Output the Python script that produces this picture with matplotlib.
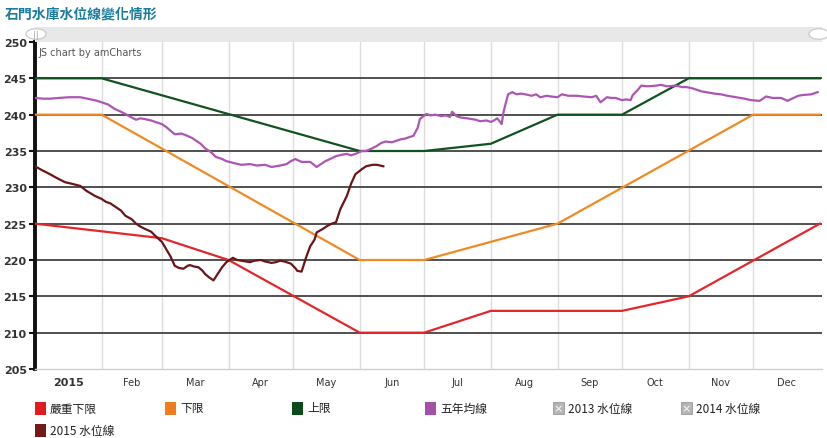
import matplotlib
matplotlib.use("Agg")
import matplotlib.pyplot as plt
from matplotlib.patches import Rectangle, Circle
from datetime import date
import numpy as np

plt.rcParams['font.family'] = ['Noto Sans CJK TC', 'DejaVu Sans']

# ---------------- data ----------------
title = "石門水庫水位線變化情形"
month_labels = ["2015", "Feb", "Mar", "Apr", "May", "Jun", "Jul", "Aug", "Sep", "Oct", "Nov", "Dec"]
y_ticks = [205, 210, 215, 220, 225, 230, 235, 240, 245, 250]

severe_dates = ["01-01", "03-01", "04-01", "06-01", "07-01", "08-01", "10-01", "11-01", "12-31"]
severe_vals = [225, 223, 220, 210, 210, 213, 213, 215, 225]

lower_dates = ["01-01", "02-01", "06-01", "07-01", "09-01", "12-01", "12-31"]
lower_vals = [240, 240, 220, 220, 225, 240, 240]

upper_dates = ["01-01", "02-01", "06-01", "07-01", "08-01", "09-01", "10-01", "11-01", "12-31"]
upper_vals = [245, 245, 235, 235, 236, 240, 240, 245, 245]

# five-year average (day of year, level)
avg_days = [0, 4, 7, 11, 16, 21, 26, 29, 31, 34, 37, 40, 42, 45, 47, 49, 51, 54, 56, 59, 61, 63, 65, 68, 70, 73,
            75, 77, 79, 82, 84, 87, 89, 93, 96, 100, 103, 107, 110, 114, 117, 119, 121, 124, 128, 131, 133, 135,
            138, 140, 143, 145, 147, 149, 152, 154, 157, 159, 161, 163, 166, 168, 170, 172, 174, 176, 178, 179,
            182, 184, 186, 189, 191, 193, 194, 196, 198, 201, 203, 205, 207, 210, 212, 214, 215, 217, 218, 220,
            222, 224, 226, 228, 231, 233, 235, 238, 240, 243, 245, 248, 252, 255, 259, 261, 263, 266, 268, 270,
            273, 275, 277, 278, 280, 282, 285, 289, 291, 294, 298, 301, 303, 306, 308, 310, 312, 316, 319, 322,
            326, 330, 333, 337, 340, 343, 347, 350, 352, 355, 357, 361, 364]
avg_vals = [242.3, 242.2, 242.2, 242.3, 242.4, 242.4, 242.1, 241.9, 241.7, 241.4, 240.8, 240.4, 240.1, 239.6,
            239.3, 239.5, 239.4, 239.2, 239.0, 238.7, 238.3, 237.8, 237.3, 237.4, 237.2, 236.8, 236.4, 236.0,
            235.4, 234.8, 234.2, 233.9, 233.6, 233.3, 233.1, 233.2, 233.0, 233.1, 232.8, 233.0, 233.2, 233.6,
            233.9, 233.5, 233.5, 232.8, 233.2, 233.6, 234.0, 234.3, 234.5, 234.6, 234.4, 234.6, 235.0, 235.0,
            235.4, 235.7, 236.1, 236.3, 236.2, 236.4, 236.6, 236.7, 236.9, 237.1, 238.2, 239.4, 240.1, 239.9,
            240.0, 239.8, 239.9, 239.7, 240.4, 239.8, 239.6, 239.5, 239.4, 239.3, 239.1, 239.2, 239.0, 239.3,
            239.5, 238.7, 240.5, 242.8, 243.1, 242.8, 242.9, 242.8, 242.6, 242.8, 242.4, 242.6, 242.5, 242.4,
            242.8, 242.6, 242.6, 242.5, 242.4, 242.6, 241.7, 242.4, 242.3, 242.3, 242.0, 242.1, 242.0, 242.7,
            243.3, 244.0, 243.9, 244.0, 244.1, 243.9, 244.0, 243.8, 243.8, 243.6, 243.4, 243.2, 243.1, 242.9,
            242.8, 242.6, 242.4, 242.2, 242.0, 241.9, 242.5, 242.3, 242.3, 241.9, 242.2, 242.6, 242.7, 242.8,
            243.1]

# 2015 water level (day of year, level)
w2015_days = [0, 3, 7, 10, 14, 17, 21, 24, 28, 31, 33, 35, 37, 40, 42, 45, 47, 49, 51, 54, 56, 59, 61, 63, 65,
              67, 69, 71, 72, 74, 76, 78, 79, 81, 83, 85, 87, 89, 91, 92, 94, 96, 98, 100, 102, 105, 107, 110,
              112, 114, 116, 119, 121, 122, 124, 126, 128, 130, 131, 134, 136, 138, 140, 142, 145, 147, 149, 152,
              154, 157, 159, 162]
w2015_vals = [232.9, 232.4, 231.8, 231.3, 230.7, 230.5, 230.2, 229.5, 228.8, 228.4, 228.0, 227.8, 227.4, 226.8,
              226.1, 225.6, 225.0, 224.6, 224.3, 223.9, 223.3, 222.5, 221.5, 220.5, 219.2, 218.9, 218.8, 219.2,
              219.3, 219.1, 219.0, 218.5, 218.1, 217.6, 217.2, 218.1, 219.0, 219.7, 220.1, 220.3, 220.0, 219.9,
              219.8, 219.7, 219.9, 220.0, 219.8, 219.6, 219.7, 219.9, 219.8, 219.5, 218.9, 218.5, 218.4, 220.3,
              221.9, 222.8, 223.8, 224.3, 224.7, 225.0, 225.2, 227.0, 228.8, 230.5, 231.8, 232.5, 232.9, 233.1,
              233.1, 232.9]

legend_labels = ["嚴重下限", "下限", "上限", "五年均線", "2013 水位線", "2014 水位線", "2015 水位線"]

# ---------------- helpers ----------------
def doy(md):
    m, d = md.split("-")
    return (date(2015, int(m), int(d)) - date(2015, 1, 1)).days + (1 if md == "12-31" else 0)

month_starts = [(date(2015, m, 1) - date(2015, 1, 1)).days for m in range(1, 13)] + [365]
month_mids = [(month_starts[i] + month_starts[i + 1]) / 2 for i in range(12)]

c_red = "#e3262a"
c_orange = "#f08a24"
c_green = "#0f5420"
c_purple = "#ad55b5"
c_brown = "#6a1518"

W, H = 828, 439
fig = plt.figure(figsize=(W / 100, H / 100), dpi=100)
ax = fig.add_axes([35 / W, 1 - 370 / H, (822 - 35) / W, (370 - 43) / H])

ax.set_xlim(0, 366)
ax.set_ylim(205, 250)

# grid
for ms in month_starts[1:12]:
    ax.axvline(ms, color="#dcdcdc", lw=1.0, zorder=0)
for yv in y_ticks[1:-1]:
    ax.axhline(yv, color="#505050", lw=1.4, zorder=1)

lw = 1.6
ax.plot([doy(d) for d in severe_dates], severe_vals, color=c_red, lw=lw, zorder=3)
ax.plot([doy(d) for d in lower_dates], lower_vals, color=c_orange, lw=lw, zorder=3)
ax.plot([doy(d) for d in upper_dates], upper_vals, color=c_green, lw=lw, zorder=3)
ax.plot(avg_days, avg_vals, color=c_purple, lw=lw, zorder=4)
ax.plot(w2015_days, w2015_vals, color=c_brown, lw=lw, zorder=5)

# axes styling
for s in ["top", "right"]:
    ax.spines[s].set_visible(False)
ax.spines["left"].set_linewidth(2.8)
ax.spines["left"].set_color("#111111")
ax.spines["bottom"].set_color("#d0d0d0")
ax.spines["bottom"].set_linewidth(1.0)

ax.set_yticks(y_ticks)
ax.set_yticklabels([str(v) for v in y_ticks], fontsize=8, fontweight="bold", color="#333333",
                   family=["DejaVu Sans"])
ax.tick_params(axis="y", length=4, width=1.5, color="#111111", pad=2)

ax.set_xticks(month_starts[1:12])
ax.set_xticklabels([])
ax.tick_params(axis="x", which="major", length=0)
ax.set_xticks(month_mids, minor=True)
ax.set_xticklabels(month_labels, minor=True, fontsize=7, color="#333333", family=["DejaVu Sans"])
ax.tick_params(axis="x", which="minor", length=0, pad=6)
for lab in ax.get_xticklabels(minor=True):
    if lab.get_text() == "2015":
        lab.set_fontweight("bold")
        lab.set_fontsize(8)

ax.text(0.004, 0.985, "JS chart by amCharts", transform=ax.transAxes, fontsize=7, color="#555555",
        va="top", ha="left", family=["DejaVu Sans"])

# title
fig.text(5 / W, 1 - 15 / H, title, fontsize=10, fontweight="bold", color="#1a7b9c", va="center", ha="left")

# scrollbar
fig.patches.append(Rectangle((35 / W, 1 - 43 / H), (822 - 35) / W, 15 / H, transform=fig.transFigure,
                             facecolor="#e8e8e8", edgecolor="none", zorder=0))
for cx in (36, 819):
    fig.patches.append(Circle((cx / W, 1 - 35 / H), 10 / W, transform=fig.transFigure,
                              facecolor="white", edgecolor="#cfcfcf", lw=1.0, zorder=2))
fig.text(36 / W, 1 - 35 / H, "||", fontsize=6, color="#aaaaaa", ha="center", va="center",
         family=["DejaVu Sans"], zorder=3)

# legend
leg_colors = ["#e01c1c", "#f07d1c", "#0c4a1a", "#a450a8", None, None, "#741a1a"]
leg_pos = [(35, 409), (165, 409), (292, 409), (425, 409), (553, 409), (681, 409), (35, 431)]
for lab, col, (lx, ly) in zip(legend_labels, leg_colors, leg_pos):
    if col is None:
        fig.patches.append(Rectangle((lx / W, 1 - (ly + 6) / H), 11 / W, 12 / H, transform=fig.transFigure,
                                     facecolor="#b5b5b5", edgecolor="#999999", lw=0.6))
        fig.text((lx + 5.5) / W, 1 - ly / H, "×", fontsize=8, color="white", ha="center", va="center",
                 family=["DejaVu Sans"])
    else:
        fig.patches.append(Rectangle((lx / W, 1 - (ly + 7) / H), 11 / W, 13 / H, transform=fig.transFigure,
                                     facecolor=col, edgecolor="none"))
    fig.text((lx + 15) / W, 1 - ly / H, lab, fontsize=8.5, color="#222222", ha="left", va="center")

fig.savefig("out.png", dpi=100)
